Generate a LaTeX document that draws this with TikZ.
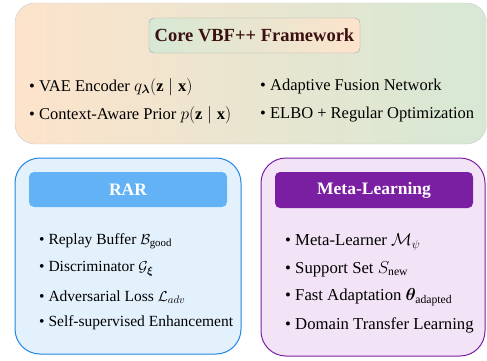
\documentclass[tikz,border=0pt]{standalone}
\usepackage{amsmath,amssymb,bm}
\usepackage{fontspec}
\setmainfont{Liberation Serif}
\usepackage{tikz,xcolor}
\usetikzlibrary{positioning}

\definecolor{peach}{HTML}{FDE3CB}
\definecolor{sage}{HTML}{D6E8D4}
\definecolor{rarfill}{HTML}{E3F1FD}
\definecolor{rarline}{HTML}{1E88E5}
\definecolor{rarhead}{HTML}{64B2F6}
\definecolor{metafill}{HTML}{F3E3F6}
\definecolor{metaline}{HTML}{7B1FA2}
\definecolor{metahead}{HTML}{7B1FA2}
\definecolor{titletext}{HTML}{3A1010}

\begin{document}
\begin{tikzpicture}[x=1pt,y=1pt,
		item/.style={anchor=west,inner sep=0pt,font=\fontsize{16.5}{19}\selectfont},
		raritem/.style={item,font=\fontsize{15.5}{19}\selectfont},
		metaitem/.style={item,font=\fontsize{16.7}{19}\selectfont},
		head/.style={font=\fontsize{17.5}{20}\selectfont\bfseries}]
		\useasboundingbox (0,0) rectangle (487,360);
		% core framework
		\draw[gray!40,rounded corners=20pt,left color=peach,right color=sage] (15,357) rectangle (486.5,216);
		\draw[gray!70,rounded corners=5pt,left color=sage,right color=peach] (149,342) rectangle (360,307);
		\node[head,font=\fontsize{18.5}{22}\selectfont\bfseries,text=titletext] (core) at (254.5,324.5) {Core VBF++ Framework};
		\node[item] (vae) at (29,273) {\textbullet\ VAE Encoder $q_{\bm{\lambda}}(\mathbf{z}\mid\mathbf{x})$};
		\node[item] (prior) at (29,245) {\textbullet\ Context-Aware Prior $p(\mathbf{z}\mid\mathbf{x})$};
		\node[item] (fusion) at (260,273) {\textbullet\ Adaptive Fusion Network};
		\node[item] (elbo) at (260,245) {\textbullet\ ELBO + Regular Optimization};
		% RAR
		\draw[rarline,line width=1pt,rounded corners=25pt,fill=rarfill] (15,202) rectangle (241,6);
		\fill[rarhead,rounded corners=5pt] (29,188) rectangle (227,153);
		\node[head,text=white] (rar) at (128,170.5) {RAR};
		\node[raritem] (buffer) at (39,119) {\textbullet\ Replay Buffer $\mathcal{B}_{\text{good}}$};
		\node[raritem] (disc) at (39,91) {\textbullet\ Discriminator $\mathcal{G}_{\bm{\xi}}$};
		\node[raritem] (adv) at (39,63) {\textbullet\ Adversarial Loss $\mathcal{L}_{adv}$};
		\node[raritem] (self) at (39,37) {\textbullet\ Self-supervised Enhancement};
		% meta-learning
		\draw[metaline,line width=1pt,rounded corners=25pt,fill=metafill] (261,202) rectangle (485,4);
		\fill[metahead,rounded corners=5pt] (275,188) rectangle (473,152);
		\node[head,text=white] (meta) at (374,170) {Meta-Learning};
		\node[metaitem] (learner) at (285,118) {\textbullet\ Meta-Learner $\mathcal{M}_{\psi}$};
		\node[metaitem] (support) at (285,91) {\textbullet\ Support Set $S_{\text{new}}$};
		\node[metaitem] (fast) at (285,63) {\textbullet\ Fast Adaptation $\bm{\theta}_{\text{adapted}}$};
		\node[metaitem] (transfer) at (285,35) {\textbullet\ Domain Transfer Learning};
	\end{tikzpicture}
\end{document}
